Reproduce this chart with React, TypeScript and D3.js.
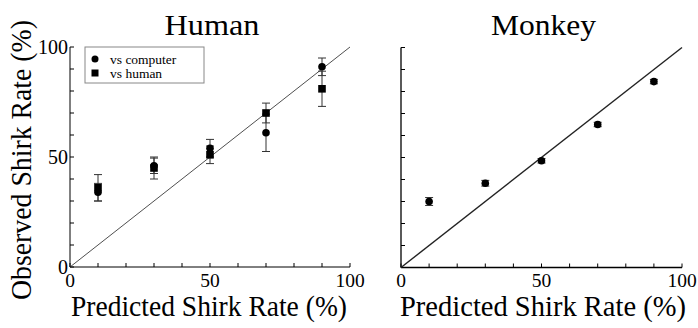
import React from "react";
import * as d3 from "d3";

const predicted = [10, 30, 50, 70, 90];
const humanVsComputer = [34, 46, 54, 61, 91];
const humanVsComputerErr = [4, 3.5, 4, 8.5, 4];
const humanVsHuman = [36, 45, 51, 70, 81];
const humanVsHumanErr = [6, 5, 4, 4.5, 8];
const monkey = [30, 38.3, 48.5, 65, 84.5];
const monkeyErr = [1.8, 1.3, 1, 1, 1];
const tickValues = [0, 50, 100];
const minorTicks = d3.range(0, 101, 10);
const titles = ["Human", "Monkey"];
const xLabel = "Predicted Shirk Rate (%)";
const yLabel = "Observed Shirk Rate (%)";
const legendLabels = ["vs computer", "vs human"];

const FONT = "Liberation Serif, Times New Roman, serif";

function Panel({ x0, x1, y0, y1, title, titleLen, labelCx, labelLen, showYLabels, lineW, axisW, children }: any) {
  const xs = d3.scaleLinear().domain([0, 100]).range([x0, x1]);
  const ys = d3.scaleLinear().domain([0, 100]).range([y1, y0]);
  return (
    <g>
      <text x={(x0 + x1) / 2 + 2} y={35} textAnchor="middle" fontFamily={FONT} fontSize={30} textLength={titleLen} lengthAdjust="spacingAndGlyphs">{title}</text>
      <line x1={xs(0)} x2={xs(0)} y1={ys(0)} y2={ys(100)} stroke="#000" strokeWidth={axisW} />
      <line x1={xs(0)} x2={xs(100)} y1={ys(0)} y2={ys(0)} stroke="#000" strokeWidth={axisW} />
      {minorTicks.map((t) => (
        <g key={t}>
          <line x1={xs(t)} x2={xs(t)} y1={ys(0)} y2={ys(0) - 4} stroke="#000" strokeWidth={1} />
          <line x1={xs(0)} x2={xs(0) + 4} y1={ys(t)} y2={ys(t)} stroke="#000" strokeWidth={1} />
        </g>
      ))}
      {tickValues.map((t) => (
        <text key={"x" + t} x={xs(t)} y={287} textAnchor="middle" fontFamily={FONT} fontSize={19.5}>{t}</text>
      ))}
      {showYLabels && tickValues.map((t) => (
        <text key={"y" + t} x={xs(0) - 2} y={ys(t) + 7} textAnchor="end" fontFamily={FONT} fontSize={20}>{t}</text>
      ))}
      <line x1={xs(0)} y1={ys(0)} x2={xs(100)} y2={ys(100)} stroke="#222" strokeWidth={lineW} />
      <text x={labelCx} y={316} textAnchor="middle" fontFamily={FONT} fontSize={28.5} textLength={labelLen} lengthAdjust="spacingAndGlyphs">{xLabel}</text>
      {children(xs, ys)}
    </g>
  );
}

function ErrBar({ x, lo, hi }: any) {
  return (
    <g stroke="#333" strokeWidth={1}>
      <line x1={x} x2={x} y1={lo} y2={hi} />
      <line x1={x - 4} x2={x + 4} y1={lo} y2={lo} />
      <line x1={x - 4} x2={x + 4} y1={hi} y2={hi} />
    </g>
  );
}

export default function App() {
  return (
    <div style={{ position: "absolute", left: 0, top: 0 }}>
      <svg width={698} height={328} style={{ display: "block", background: "#fff" }}>
        <text transform="translate(31,160) rotate(-90)" textAnchor="middle" fontFamily={FONT} fontSize={29} textLength={280} lengthAdjust="spacingAndGlyphs">{yLabel}</text>
        <Panel x0={70} x1={350} y0={47} y1={267} title={titles[0]} titleLen={95} labelCx={209} labelLen={276} showYLabels lineW={0.8} axisW={1}>
          {(xs: any, ys: any) => (
            <g>
              {predicted.map((p, i) => (
                <g key={"c" + i}>
                  <ErrBar x={xs(p)} lo={ys(humanVsComputer[i] - humanVsComputerErr[i])} hi={ys(humanVsComputer[i] + humanVsComputerErr[i])} />
                </g>
              ))}
              {predicted.map((p, i) => (
                <g key={"h" + i}>
                  <ErrBar x={xs(p)} lo={ys(humanVsHuman[i] - humanVsHumanErr[i])} hi={ys(humanVsHuman[i] + humanVsHumanErr[i])} />
                </g>
              ))}
              {predicted.map((p, i) => (
                <circle key={"cc" + i} cx={xs(p)} cy={ys(humanVsComputer[i])} r={3.8} fill="#000" />
              ))}
              {predicted.map((p, i) => (
                <rect key={"hh" + i} x={xs(p) - 3.8} y={ys(humanVsHuman[i]) - 3.8} width={7.6} height={7.6} fill="#000" />
              ))}
              <rect x={85} y={47} width={119} height={36} fill="#fff" stroke="#888" strokeWidth={1} />
              <circle cx={95} cy={59} r={3.5} fill="#000" />
              <rect x={91.5} y={69.5} width={7} height={7} fill="#000" />
              <text x={110} y={63.5} fontFamily={FONT} fontSize={13.5}>{legendLabels[0]}</text>
              <text x={110} y={77.5} fontFamily={FONT} fontSize={13.5}>{legendLabels[1]}</text>
            </g>
          )}
        </Panel>
        <Panel x0={401} x1={682} y0={47.5} y1={267.5} title={titles[1]} titleLen={105} labelCx={543} labelLen={286} showYLabels={false} lineW={1.4} axisW={1.3}>
          {(xs: any, ys: any) => (
            <g>
              {predicted.map((p, i) => (
                <g key={"m" + i}>
                  <ErrBar x={xs(p)} lo={ys(monkey[i] - monkeyErr[i])} hi={ys(monkey[i] + monkeyErr[i])} />
                  <circle cx={xs(p)} cy={ys(monkey[i])} r={3.8} fill="#000" />
                </g>
              ))}
            </g>
          )}
        </Panel>
      </svg>
    </div>
  );
}
